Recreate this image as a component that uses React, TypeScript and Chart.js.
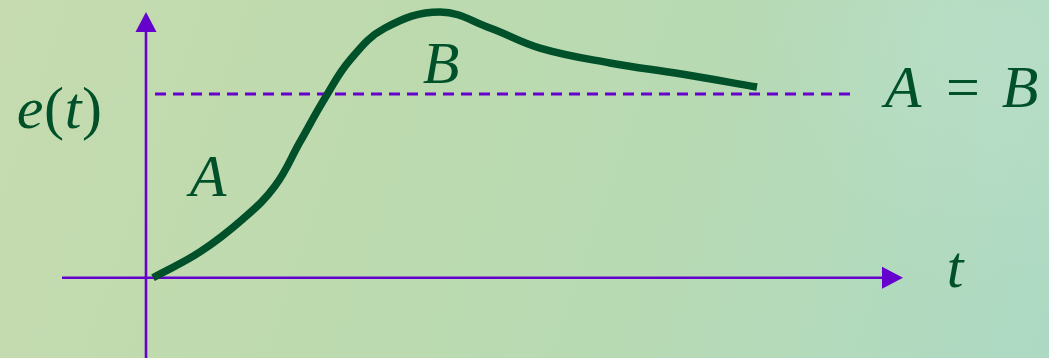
import React, { useEffect, useRef } from "react";
import { Chart, registerables } from "chart.js";

Chart.register(...registerables);

// Response curve e(t): time t and error e, with the steady-state level at e = 1.
const timeValues = [0.07, 0.54, 0.97, 1.29, 1.54, 1.79, 2.04, 2.39, 2.94, 3.44, 3.94, 4.64, 5.34, 6.11];
const errorValues = [0.0, 0.14, 0.32, 0.499, 0.739, 0.978, 1.185, 1.359, 1.446, 1.359, 1.25, 1.169, 1.11, 1.038];

// Steady-state reference line
const levelTimes = [0.09, 7.09];
const levelValue = 1;

const GREEN = "#00502a";
const PURPLE = "#6600cc";
const SERIF = '"Liberation Serif", "Times New Roman", serif';

const backgroundPlugin = {
  id: "paperBackground",
  beforeDraw(chart: any) {
    const { ctx, width, height } = chart;
    ctx.save();
    const g = ctx.createLinearGradient(0, 0, width, height);
    g.addColorStop(0, "#c6dbb0");
    g.addColorStop(0.35, "#bddaae");
    g.addColorStop(0.65, "#b7dab4");
    g.addColorStop(1, "#add9c4");
    ctx.fillStyle = g;
    ctx.fillRect(0, 0, width, height);
    const r = ctx.createRadialGradient(width * 0.95, height * 0.15, 10, width * 0.95, height * 0.15, 240);
    r.addColorStop(0, "rgba(188,224,204,0.6)");
    r.addColorStop(1, "rgba(188,224,204,0)");
    ctx.fillStyle = r;
    ctx.fillRect(0, 0, width, height);
    ctx.restore();
  },
};

const axesPlugin = {
  id: "arrowAxes",
  beforeDatasetsDraw(chart: any) {
    const { ctx } = chart;
    const xs = chart.scales.x;
    const ys = chart.scales.y;
    const ox = xs.getPixelForValue(0);
    const oy = ys.getPixelForValue(0);
    ctx.save();
    ctx.strokeStyle = PURPLE;
    ctx.fillStyle = PURPLE;
    ctx.lineWidth = 2.6;

    // horizontal t axis
    const xStart = xs.getPixelForValue(-0.84);
    const xTip = xs.getPixelForValue(7.57);
    const xBase = xs.getPixelForValue(7.36);
    ctx.beginPath();
    ctx.moveTo(xStart, oy);
    ctx.lineTo(xBase, oy);
    ctx.stroke();
    ctx.beginPath();
    ctx.moveTo(xTip, oy);
    ctx.lineTo(xBase, oy - 11);
    ctx.lineTo(xBase, oy + 11);
    ctx.closePath();
    ctx.fill();

    // vertical e axis
    const yBottom = ys.getPixelForValue(ys.min);
    const yTip = ys.getPixelForValue(1.446);
    const yBase = ys.getPixelForValue(1.338);
    ctx.beginPath();
    ctx.moveTo(ox, yBottom);
    ctx.lineTo(ox, yBase);
    ctx.stroke();
    ctx.beginPath();
    ctx.moveTo(ox, yTip);
    ctx.lineTo(ox - 10.5, yBase);
    ctx.lineTo(ox + 10.5, yBase);
    ctx.closePath();
    ctx.fill();
    ctx.restore();
  },
};

type Piece = { text: string; italic: boolean; t: number; e: number };

const labelPieces: Piece[][] = [
  [
    { text: "e", italic: true, t: -1.16, e: 0.815 },
    { text: "(", italic: false, t: -0.92, e: 0.815 },
    { text: "t", italic: true, t: -0.73, e: 0.815 },
    { text: ")", italic: false, t: -0.54, e: 0.815 },
  ],
  [{ text: "A", italic: true, t: 0.62, e: 0.445 }],
  [{ text: "B", italic: true, t: 2.95, e: 1.06 }],
  [
    { text: "A", italic: true, t: 7.57, e: 0.93 },
    { text: "=", italic: false, t: 8.17, e: 0.93 },
    { text: "B", italic: true, t: 8.74, e: 0.93 },
  ],
  [{ text: "t", italic: true, t: 8.09, e: -0.05 }],
];

const labelPlugin = {
  id: "mathLabels",
  afterDraw(chart: any) {
    const { ctx } = chart;
    const xs = chart.scales.x;
    const ys = chart.scales.y;
    ctx.save();
    ctx.fillStyle = GREEN;
    ctx.textAlign = "center";
    ctx.textBaseline = "alphabetic";
    for (const group of labelPieces) {
      for (const p of group) {
        ctx.font = `${p.italic ? "italic " : ""}60px ${SERIF}`;
        ctx.fillText(p.text, xs.getPixelForValue(p.t), ys.getPixelForValue(p.e));
      }
    }
    ctx.restore();
  },
};

export default function App() {
  const canvasRef = useRef<HTMLCanvasElement | null>(null);

  useEffect(() => {
    const canvas = canvasRef.current;
    if (!canvas) return;
    const chart = new Chart(canvas, {
      type: "line",
      data: {
        datasets: [
          {
            label: "e(t)",
            data: timeValues.map((t, i) => ({ x: t, y: errorValues[i] })),
            borderColor: GREEN,
            borderWidth: 7.5,
            borderCapStyle: "butt",
            borderJoinStyle: "round",
            tension: 0.4,
            pointRadius: 0,
            fill: false,
          },
          {
            label: "A = B",
            data: levelTimes.map((t) => ({ x: t, y: levelValue })),
            borderColor: PURPLE,
            borderWidth: 3,
            borderDash: [11, 7],
            pointRadius: 0,
            fill: false,
          },
        ],
      },
      options: {
        animation: false,
        responsive: false,
        maintainAspectRatio: false,
        layout: { padding: 0 },
        plugins: {
          legend: { display: false },
          tooltip: { enabled: false },
          title: { display: false },
        },
        scales: {
          x: { type: "linear", min: -1.46, max: 9.03, display: false },
          y: { type: "linear", min: -0.4371, max: 1.5117, display: false },
        },
      },
      plugins: [backgroundPlugin, axesPlugin, labelPlugin],
    });
    return () => chart.destroy();
  }, []);

  return (
    <div style={{ position: "fixed", left: 0, top: 0, width: 1049, height: 358 }}>
      <canvas ref={canvasRef} width={1049} height={358} style={{ display: "block" }} />
    </div>
  );
}
